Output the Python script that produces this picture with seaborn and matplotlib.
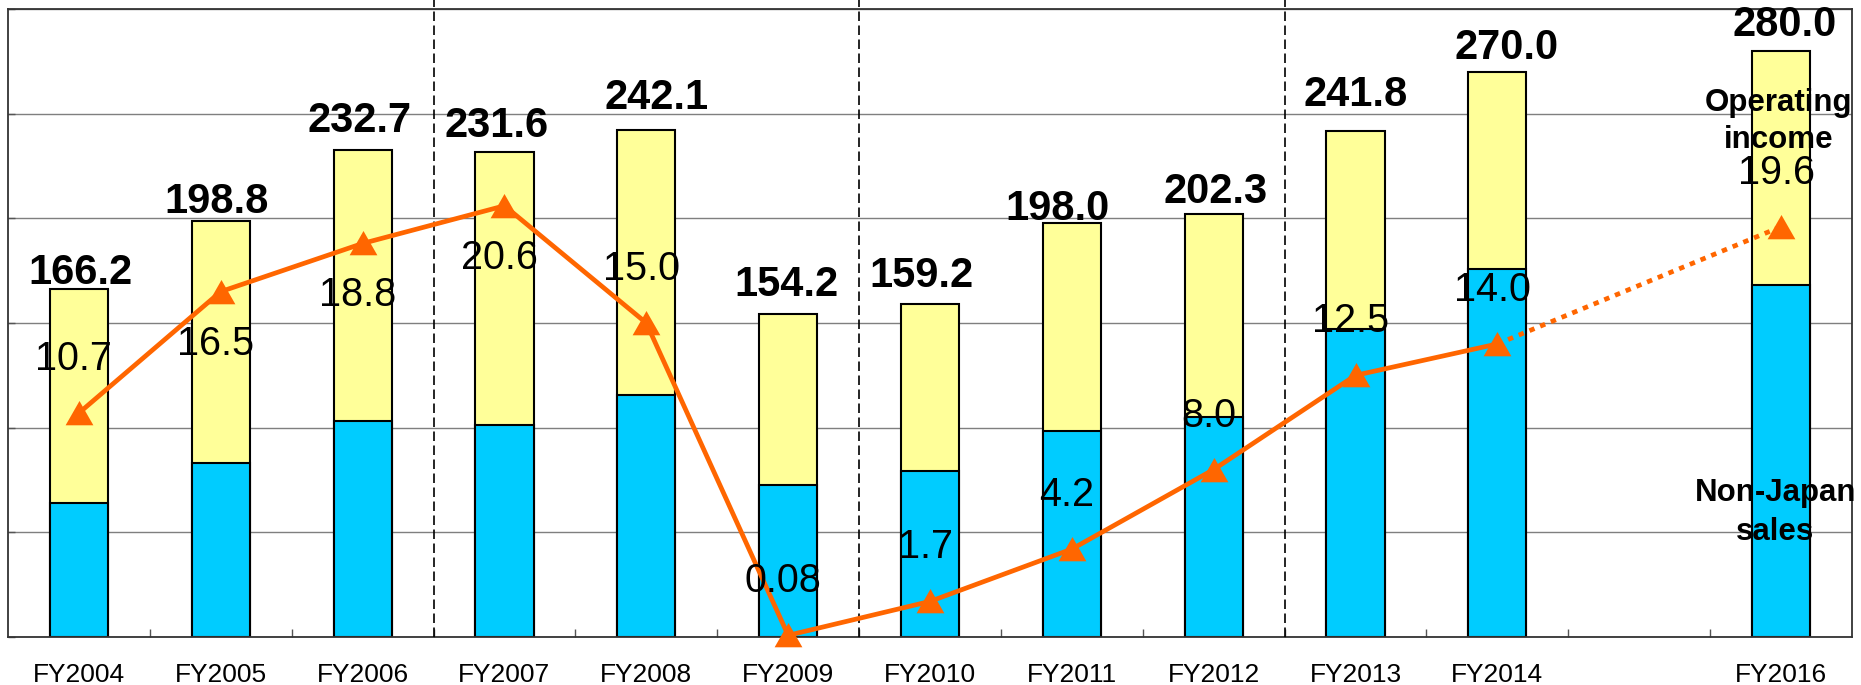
import numpy as np
import pandas as pd
import matplotlib
matplotlib.use("Agg")
import matplotlib.pyplot as plt
import seaborn as sns

# ---------------- data ----------------
years = ["FY2004", "FY2005", "FY2006", "FY2007", "FY2008", "FY2009", "FY2010",
         "FY2011", "FY2012", "FY2013", "FY2014", "FY2015", "FY2016"]
tick_labels = ["FY2004", "FY2005", "FY2006", "FY2007", "FY2008", "FY2009", "FY2010",
               "FY2011", "FY2012", "FY2013", "FY2014", "", "FY2016"]
total_sales = [166.2, 198.8, 232.7, 231.6, 242.1, 154.2, 159.2, 198.0, 202.3,
               241.8, 270.0, np.nan, 280.0]
non_japan_sales = [64.0, 83.0, 103.3, 101.4, 115.8, 72.6, 79.3, 98.2, 104.9,
                   147.3, 176.0, np.nan, 168.0]
operating_income = [10.7, 16.5, 18.8, 20.6, 15.0, 0.08, 1.7, 4.2, 8.0,
                    12.5, 14.0, np.nan, 19.6]
income_labels = ["10.7", "16.5", "18.8", "20.6", "15.0", "0.08", "1.7", "4.2",
                 "8.0", "12.5", "14.0", "", "19.6"]
actual_years = years[:11]
plan_years = ["FY2014", "FY2016"]

# ---------------- styles ----------------
YELLOW = "#FFFF99"
BLUE = "#00CCFF"
ORANGE = "#FF6600"
DPI = 100
# label offsets (pixels) for the total labels: (dx, gap above bar)
total_dx = [2, -4, -3, -8, 10, -2, -9, -14, 2, 0, 9, 0, 4]
total_gap = [4, 7, 17, 14, 20, 17, 16, 2, 10, 24, 12, 0, 14]
# income label placement: +1 above the point, -1 below
income_side = [1, -1, -1, -1, 1, 1, 1, 1, 1, 1, 1, 0, 1]

sns.set_theme(style="white")
plt.rcParams["font.family"] = ["Liberation Sans", "DejaVu Sans"]

fig = plt.figure(figsize=(18.61, 6.85), dpi=DPI)
ax = fig.add_axes([8 / 1861, 1 - 637 / 685, (1852 - 8) / 1861, (637 - 9) / 685])

df = pd.DataFrame({"year": years, "total": total_sales, "nonjp": non_japan_sales,
                   "income": operating_income})
dfb = df.dropna(subset=["total"])

sns.barplot(data=dfb, x="year", y="total", order=years, color=YELLOW, saturation=1,
            width=0.41, edgecolor="black", linewidth=1.5, errorbar=None, ax=ax, zorder=2)
sns.barplot(data=dfb, x="year", y="nonjp", order=years, color=BLUE, saturation=1,
            width=0.41, edgecolor="black", linewidth=1.5, errorbar=None, ax=ax, zorder=2)

ax.set_xlim(-0.5, len(years) - 0.5)
ax.set_ylim(0, 300)
ax.set_yticks(np.arange(0, 301, 50))
ax.set_yticklabels([])
ax.grid(axis="y", color="#7f7f7f", linewidth=1.0, zorder=0)
ax.set_axisbelow(True)
ax.set_xlabel("")
ax.set_ylabel("")
ax.set_xticks(range(len(years)))
ax.set_xticklabels(tick_labels, fontsize=19, color="black")
ax.set_xticks(np.arange(0.5, len(years) - 1, 1.0), minor=True)
ax.tick_params(axis="x", which="major", length=0, pad=18.5)
ax.tick_params(axis="x", which="minor", direction="in", length=6, width=1.0,
               color="#555555", bottom=True)
ax.tick_params(axis="y", direction="in", length=5, width=1.0, color="#555555", left=True)
for sp in ax.spines.values():
    sp.set_color("#333333")
    sp.set_linewidth(1.3)
    sp.set_visible(True)

# dashed separators
for b in (2.5, 5.5, 8.5):
    ax.axvline(b, ymin=0, ymax=1.016, clip_on=False, color="black", lw=1.2,
               linestyle=(0, (5.7, 2.7)), zorder=3)

# total labels
px = 72 / DPI
for i, (v, dx, gap) in enumerate(zip(total_sales, total_dx, total_gap)):
    if np.isnan(v):
        continue
    ax.annotate(f"{v:.1f}", xy=(i, v), xytext=(dx * px, (gap - 8) * px),
                textcoords="offset points", ha="center", va="bottom",
                fontsize=30, fontweight="bold", color="black",
                annotation_clip=False, zorder=6)

# operating income line on a secondary axis
ax2 = ax.twinx()
ax2.set_ylim(0, 30)
ax2.set_yticks([])
for sp in ax2.spines.values():
    sp.set_visible(False)

tri = [(-1.0, -0.85), (1.0, -0.85), (0.0, 0.9), (-1.0, -0.85)]
pos = {y: i for i, y in enumerate(years)}
inc = dict(zip(years, operating_income))

sol_x = [pos[y] for y in actual_years]
sol_y = [inc[y] for y in actual_years]
sns.lineplot(x=sol_x, y=sol_y, color=ORANGE, linewidth=3.4, ax=ax2, sort=False,
             marker=tri, markersize=20, markeredgewidth=0, markerfacecolor=ORANGE,
             clip_on=False, zorder=5)
pl_x = [pos[y] for y in plan_years]
pl_y = [inc[y] for y in plan_years]
sns.lineplot(x=pl_x, y=pl_y, color=ORANGE, linewidth=3.4, ax=ax2, sort=False,
             linestyle=(0, (1.15, 1.3)), dash_capstyle="butt", zorder=4)
sns.lineplot(x=[pos["FY2016"]], y=[inc["FY2016"]], color=ORANGE, ax=ax2,
             marker=tri, markersize=20, markeredgewidth=0, markerfacecolor=ORANGE,
             linestyle="none", zorder=5)
ax2.set_xlim(-0.5, len(years) - 0.5)
ax2.set_ylabel("")

for i, (v, lab, side) in enumerate(zip(operating_income, income_labels, income_side)):
    if np.isnan(v):
        continue
    dy = 54 if side > 0 else -52
    ax2.annotate(lab, xy=(i, v), xytext=(-5 * px, dy * px), textcoords="offset points",
                 ha="center", va="center", fontsize=28.5, color="black", zorder=7,
                 annotation_clip=False)

# series labels
ax2.text(11.98, 25.52, "Operating", ha="center", va="center", fontsize=22.5,
         fontweight="bold", color="black", zorder=7)
ax2.text(11.98, 23.76, "income", ha="center", va="center", fontsize=22.5,
         fontweight="bold", color="black", zorder=7)
ax2.text(11.96, 6.88, "Non-Japan", ha="center", va="center", fontsize=22.5,
         fontweight="bold", color="black", zorder=7)
ax2.text(11.96, 5.02, "sales", ha="center", va="center", fontsize=22.5,
         fontweight="bold", color="black", zorder=7)

fig.savefig("out.png", dpi=DPI)
